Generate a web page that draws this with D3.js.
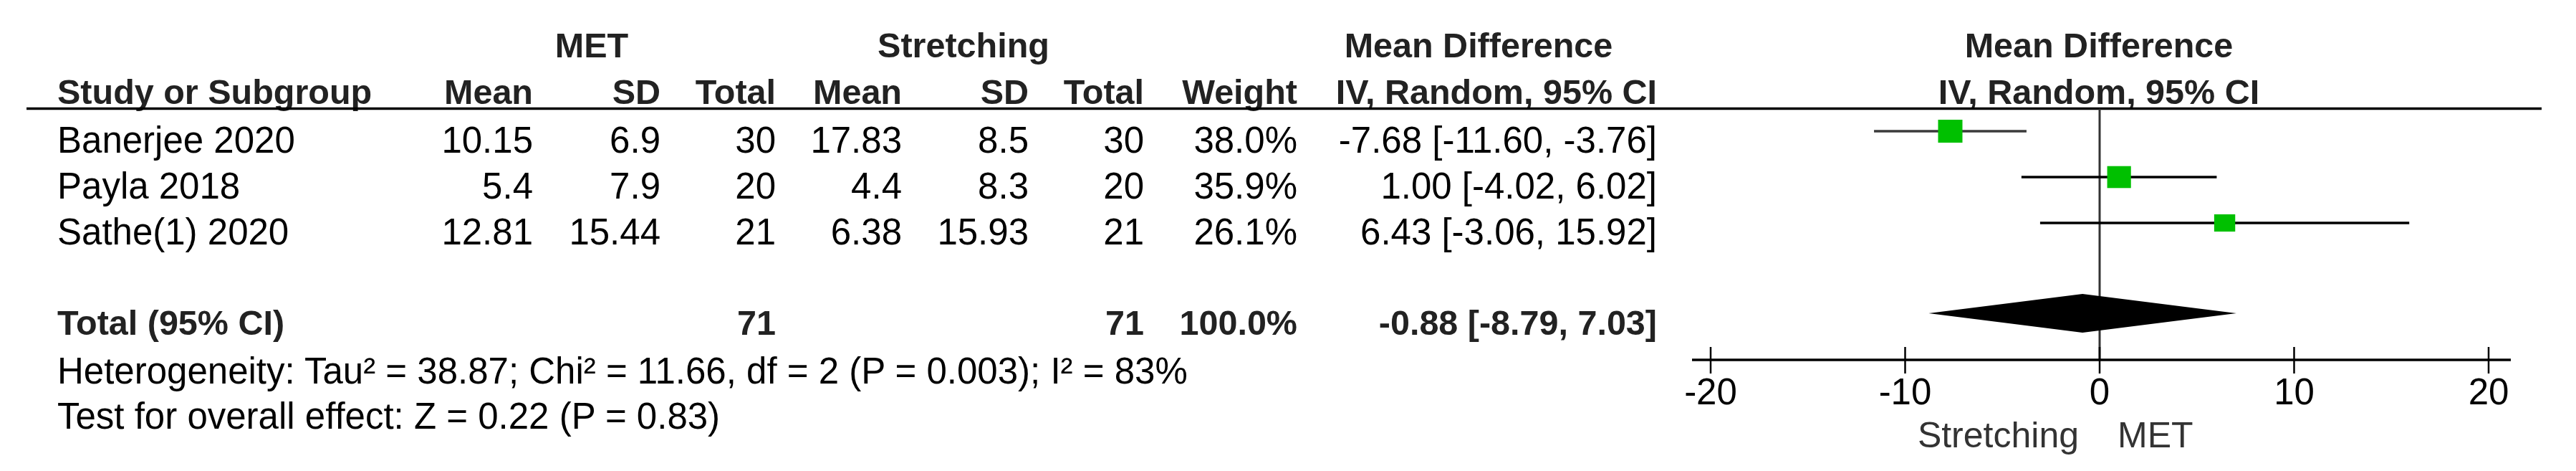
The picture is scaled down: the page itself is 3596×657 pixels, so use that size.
<!DOCTYPE html>
<html>
<head>
<meta charset="utf-8">
<script src="https://cdn.jsdelivr.net/npm/d3@7"></script>
<style>
  html, body { margin: 0; padding: 0; background: #fff; }
  svg { display: block; }
  text { font-family: "Liberation Sans", Arial, sans-serif; }
</style>
</head>
<body>
<svg id="chart" width="3596" height="657"></svg>
<script>
// ---------------- DATA ----------------
const studies      = ["Banerjee 2020", "Payla 2018", "Sathe(1) 2020"];
const metMean      = [10.15, 5.4, 12.81];
const metSD        = [6.9, 7.9, 15.44];
const metTotal     = [30, 20, 21];
const strMean      = [17.83, 4.4, 6.38];
const strSD        = [8.5, 8.3, 15.93];
const strTotal     = [30, 20, 21];
const weights      = [38.0, 35.9, 26.1];
const md           = [-7.68, 1.00, 6.43];
const ciLow        = [-11.60, -4.02, -3.06];
const ciHigh       = [-3.76, 6.02, 15.92];

const totalLabel   = "Total (95% CI)";
const totalMet     = 71;
const totalStr     = 71;
const totalWeight  = 100.0;
const totalMD      = -0.88;
const totalLow     = -8.79;
const totalHigh    = 7.03;

const heterogeneityText = "Heterogeneity: Tau\u00B2 = 38.87; Chi\u00B2 = 11.66, df = 2 (P = 0.003); I\u00B2 = 83%";
const overallText       = "Test for overall effect: Z = 0.22 (P = 0.83)";

const axisTicks    = [-20, -10, 0, 10, 20];
const favoursLeft  = "Stretching";
const favoursRight = "MET";
const group1       = "MET";
const group2       = "Stretching";

// ---------------- LAYOUT ----------------
const svg = d3.select("#chart");
svg.append("rect").attr("width", 3596).attr("height", 657).attr("fill", "#fff");

const FS = 51, FSB = 48.5;
const col = {
  study: 80, metMean: 744, metSD: 922, metTotal: 1083,
  strMean: 1259, strSD: 1436, strTotal: 1597, weight: 1811, ci: 2313
};

const x = d3.scaleLinear().domain([-20, 20]).range([2388, 3474]);
const rowY = d3.scaleLinear().domain([0, 1]).range([183, 247]); // centre of the CI line
const textOff = 30;
const totalRow = 4;
const wScale = d3.scaleLinear().domain([20, 38]).range([27, 34]);
const hScale = d3.scaleLinear().domain([20, 38]).range([20, 32]);

const headerLineY = 151.5;
const axisY = 502;

function txt(str, xx, yy, anchor, bold, color, size) {
  return svg.append("text")
    .attr("x", xx).attr("y", yy)
    .attr("text-anchor", anchor || "start")
    .attr("font-weight", bold ? "bold" : "normal")
    .attr("font-size", size || (bold ? FSB : FS))
    .attr("fill", color || "#000")
    .text(str);
}
const f2 = v => v.toFixed(2);
const f1 = v => v.toFixed(1);

// group headers
txt(group1, 826, 80, "middle", true, "#222");
txt(group2, 1345, 80, "middle", true, "#222");
txt("Mean Difference", 2064, 80, "middle", true, "#222");
txt("Mean Difference", 2930, 80, "middle", true, "#222");

// column headers
const hy = 145;
txt("Study or Subgroup", col.study, hy, "start", true, "#222");
txt("Mean", col.metMean, hy, "end", true, "#222");
txt("SD", col.metSD, hy, "end", true, "#222");
txt("Total", col.metTotal, hy, "end", true, "#222");
txt("Mean", col.strMean, hy, "end", true, "#222");
txt("SD", col.strSD, hy, "end", true, "#222");
txt("Total", col.strTotal, hy, "end", true, "#222");
txt("Weight", col.weight, hy, "end", true, "#222");
txt("IV, Random, 95% CI", col.ci, hy, "end", true, "#222");
txt("IV, Random, 95% CI", 2930, hy, "middle", true, "#222");

// header rule
svg.append("line")
  .attr("x1", 37).attr("x2", 3548)
  .attr("y1", headerLineY).attr("y2", headerLineY)
  .attr("stroke", "#000").attr("stroke-width", 3.5);

// zero line
svg.append("line")
  .attr("x1", x(0)).attr("x2", x(0))
  .attr("y1", headerLineY).attr("y2", axisY)
  .attr("stroke", "#333").attr("stroke-width", 3);

// study rows
studies.forEach((s, i) => {
  const ty = rowY(i) + textOff;
  txt(s, col.study, ty, "start");
  txt(String(metMean[i]), col.metMean, ty, "end");
  txt(String(metSD[i]), col.metSD, ty, "end");
  txt(String(metTotal[i]), col.metTotal, ty, "end");
  txt(String(strMean[i]), col.strMean, ty, "end");
  txt(String(strSD[i]), col.strSD, ty, "end");
  txt(String(strTotal[i]), col.strTotal, ty, "end");
  txt(f1(weights[i]) + "%", col.weight, ty, "end");
  txt(f2(md[i]) + " [" + f2(ciLow[i]) + ", " + f2(ciHigh[i]) + "]", col.ci, ty, "end");

  const cy = rowY(i);
  svg.append("line")
    .attr("x1", x(ciLow[i])).attr("x2", x(ciHigh[i]))
    .attr("y1", cy).attr("y2", cy)
    .attr("stroke", i === 0 ? "#3a3a3a" : "#000").attr("stroke-width", 3.5);
  const w = wScale(weights[i]), h = hScale(weights[i]);
  svg.append("rect")
    .attr("x", x(md[i]) - w / 2).attr("y", cy - h / 2)
    .attr("width", w).attr("height", h)
    .attr("fill", "#00c000");
});

// total row
const tyT = rowY(totalRow) + textOff - 2;
txt(totalLabel, col.study, tyT, "start", true, "#222");
txt(String(totalMet), col.metTotal, tyT, "end", true, "#222");
txt(String(totalStr), col.strTotal, tyT, "end", true, "#222");
txt(f1(totalWeight) + "%", col.weight, tyT, "end", true, "#222");
txt(f2(totalMD) + " [" + f2(totalLow) + ", " + f2(totalHigh) + "]", col.ci, tyT, "end", true, "#222");

const dy = rowY(totalRow) - 2;
const dh = 27;
svg.append("path")
  .attr("d", d3.line()([
    [x(totalLow), dy], [x(totalMD), dy - dh], [x(totalHigh), dy], [x(totalMD), dy + dh]
  ]) + "Z")
  .attr("fill", "#000");

// footnotes
txt(heterogeneityText, col.study, 535, "start");
txt(overallText, col.study, 598, "start");

// axis
const axisG = svg.append("g");
axisG.append("line")
  .attr("x1", x(-20) - 26).attr("x2", x(20) + 31)
  .attr("y1", axisY).attr("y2", axisY)
  .attr("stroke", "#000").attr("stroke-width", 3.5);
axisG.selectAll("line.tick").data(axisTicks).enter().append("line")
  .attr("class", "tick")
  .attr("x1", d => x(d)).attr("x2", d => x(d))
  .attr("y1", axisY - 18).attr("y2", axisY + 19)
  .attr("stroke", "#000").attr("stroke-width", 2.5);
axisG.selectAll("text.tl").data(axisTicks).enter().append("text")
  .attr("class", "tl")
  .attr("x", d => x(d)).attr("y", 564)
  .attr("text-anchor", "middle")
  .attr("font-size", FS).attr("fill", "#000")
  .text(d => String(d));

txt(favoursLeft, x(0) - 29, 624, "end", false, "#333", 50);
txt(favoursRight, x(0) + 25, 624, "start", false, "#333", 50);
</script>
</body>
</html>
